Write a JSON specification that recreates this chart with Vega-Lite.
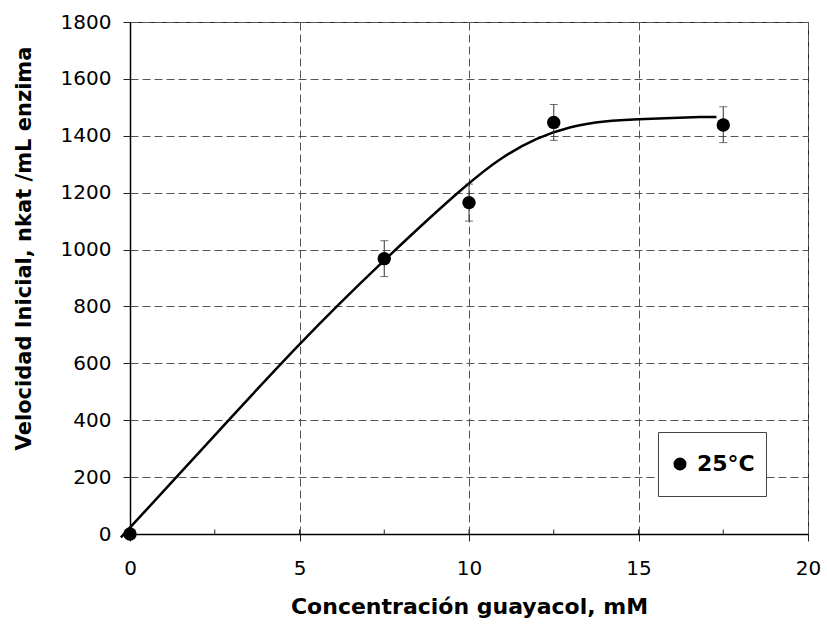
{
  "$schema": "https://vega.github.io/schema/vega-lite/v6.json",
  "autosize": "none",
  "width": 678,
  "height": 512,
  "padding": {"left": 130, "top": 22, "right": 19, "bottom": 91},
  "background": "white",
  "config": {
    "view": {"stroke": "#222", "strokeWidth": 1},
    "font": "DejaVu Sans"
  },
  "datasets": {
    "puntos": [
      {"c": 0, "v": 0, "lo": null, "hi": null, "serie": "25°C"},
      {"c": 7.5, "v": 968, "lo": 905, "hi": 1031, "serie": "25°C"},
      {"c": 10, "v": 1165, "lo": 1100, "hi": 1230, "serie": "25°C"},
      {"c": 12.5, "v": 1447, "lo": 1384, "hi": 1510, "serie": "25°C"},
      {"c": 17.5, "v": 1438, "lo": 1376, "hi": 1502, "serie": "25°C"}
    ],
    "curva": [
      {"c": -0.27, "v": -12},
      {"c": 0, "v": 22},
      {"c": 2.5, "v": 347},
      {"c": 5, "v": 672},
      {"c": 7.5, "v": 965},
      {"c": 10, "v": 1238},
      {"c": 11, "v": 1328},
      {"c": 12, "v": 1393},
      {"c": 13, "v": 1434},
      {"c": 14, "v": 1452},
      {"c": 15, "v": 1459},
      {"c": 16, "v": 1462},
      {"c": 16.9, "v": 1467},
      {"c": 17.3, "v": 1466}
    ],
    "marcas": [
      {"t": 2.5}, {"t": 5}, {"t": 7.5}, {"t": 10}, {"t": 12.5}, {"t": 15}, {"t": 17.5}
    ]
  },
  "layer": [
    {
      "data": {"name": "curva"},
      "mark": {"type": "line", "color": "black", "strokeWidth": 2.5, "interpolate": "basis"},
      "encoding": {
        "x": {
          "field": "c", "type": "quantitative",
          "title": "Concentración guayacol, mM",
          "scale": {"domain": [0, 20], "nice": false},
          "axis": {
            "values": [0, 5, 10, 15, 20],
            "labelFlush": false,
            "titleFontSize": 22, "titleFontWeight": "bold", "titleColor": "black", "titlePadding": 18,
            "labelFontSize": 20, "labelColor": "black", "labelPadding": 17,
            "tickSize": 7, "tickColor": "#222", "tickWidth": 1,
            "domainColor": "black", "domainWidth": 1.5,
            "grid": true, "gridColor": "#555", "gridDash": [8, 4], "gridWidth": 1
          }
        },
        "y": {
          "field": "v", "type": "quantitative",
          "title": "Velocidad Inicial, nkat /mL enzima",
          "scale": {"domain": [0, 1800], "nice": false},
          "axis": {
            "values": [0, 200, 400, 600, 800, 1000, 1200, 1400, 1600, 1800],
            "format": "d",
            "labelFlush": false,
            "titleFontSize": 21, "titleFontWeight": "bold", "titleColor": "black", "titlePadding": 26,
            "titleY": 226,
            "labelFontSize": 20, "labelColor": "black", "labelPadding": 12,
            "tickSize": 7, "tickColor": "#222", "tickWidth": 1,
            "domainColor": "black", "domainWidth": 1.5,
            "grid": true, "gridColor": "#555", "gridDash": [8, 4], "gridWidth": 1
          }
        }
      }
    },
    {
      "data": {"name": "marcas"},
      "mark": {"type": "rule", "color": "#222", "strokeWidth": 1},
      "encoding": {
        "x": {"field": "t", "type": "quantitative"},
        "y": {"datum": 0},
        "y2": {"datum": 16}
      }
    },
    {
      "data": {"name": "puntos"},
      "transform": [{"filter": "datum.lo != null"}],
      "mark": {"type": "errorbar", "ticks": true, "size": 8, "thickness": 1, "color": "#333"},
      "encoding": {
        "x": {"field": "c", "type": "quantitative"},
        "y": {"field": "lo", "type": "quantitative", "title": "Velocidad Inicial, nkat /mL enzima"},
        "y2": {"field": "hi"}
      }
    },
    {
      "data": {"name": "puntos"},
      "mark": {"type": "point", "filled": true, "shape": "circle", "size": 180, "opacity": 1},
      "encoding": {
        "x": {"field": "c", "type": "quantitative"},
        "y": {"field": "v", "type": "quantitative", "title": "Velocidad Inicial, nkat /mL enzima"},
        "color": {
          "field": "serie", "type": "nominal",
          "scale": {"range": ["black"]},
          "legend": {
            "title": null,
            "orient": "none",
            "legendX": 528,
            "legendY": 410,
            "strokeColor": "#444",
            "fillColor": "white",
            "padding": 11,
            "clipHeight": 42,
            "symbolType": "circle",
            "symbolSize": 170,
            "symbolStrokeWidth": 0,
            "labelFontSize": 22,
            "labelFontWeight": "bold",
            "labelColor": "black",
            "labelOffset": 6
          }
        }
      }
    }
  ]
}
